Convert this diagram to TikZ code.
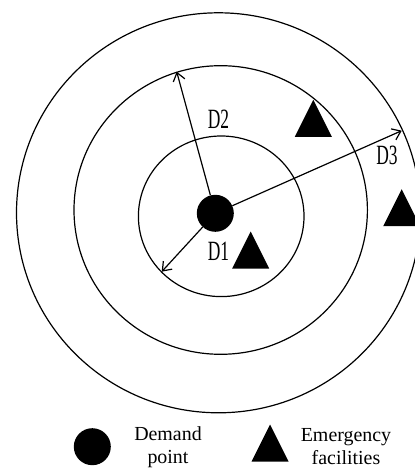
\documentclass[tikz,border=0pt]{standalone}
\usepackage{fontspec}
\setmainfont{Liberation Serif}
\usetikzlibrary{arrows.meta}
\tikzset{
  ring/.style={line width=1.2bp},
  radius arrow/.style={line width=1.2bp, -{Straight Barb[length=8bp,width=12bp,line width=1.2bp]}},
  demand/.style={circle, fill=black, minimum size=37bp, inner sep=0pt},
  dlabel/.style={inner sep=0pt, font=\fontsize{25}{25}\selectfont},
  legendtext/.style={inner sep=0pt, align=center, font=\fontsize{20}{22.5}\selectfont},
  facility/.pic={\fill (-18.5,18.5) -- (0,-18.5) -- (18.5,18.5) -- cycle;}
}
\begin{document}
\begin{tikzpicture}[x=1bp,y=-1bp]
\useasboundingbox (0,0) rectangle (414,468);
% rings
\draw[ring] (218.5,212.8) ellipse [x radius=202, y radius=200];
\draw[ring] (220.7,210) ellipse [x radius=146.7, y radius=144.3];
\draw[ring] (221.2,216.3) ellipse [x radius=82.8, y radius=80.3];
% demand point
\node[demand] (dot) at (215.3,213.3) {};
\coordinate (e1) at (161.7,271.7);
\coordinate (e2) at (176.7,71.7);
\coordinate (e3) at (401.7,130.7);
\draw[radius arrow] (dot) -- (e1);
\draw[radius arrow] (dot) -- (e2);
\draw[radius arrow] (dot) -- (e3);
% labels
\node[dlabel] (d1) at (218.5,251) {\scalebox{0.7}[1.12]{D1}};
\node[dlabel] (d2) at (218.5,119) {\scalebox{0.7}[1.12]{D2}};
\node[dlabel] (d3) at (387,155) {\scalebox{0.7}[1.12]{D3}};
% facilities
\pic at (313.3,118.3) {facility};
\pic at (250.7,250) {facility};
\pic at (401.7,207.7) {facility};
% legend
\node[demand] (ldot) at (92.3,446.7) {};
\node[legendtext] (ltext1) at (168,447) {Demand\\point};
\pic at (270,443) {facility};
\node[legendtext] (ltext2) at (346,446.5) {Emergency\\facilities};
\end{tikzpicture}
\end{document}
